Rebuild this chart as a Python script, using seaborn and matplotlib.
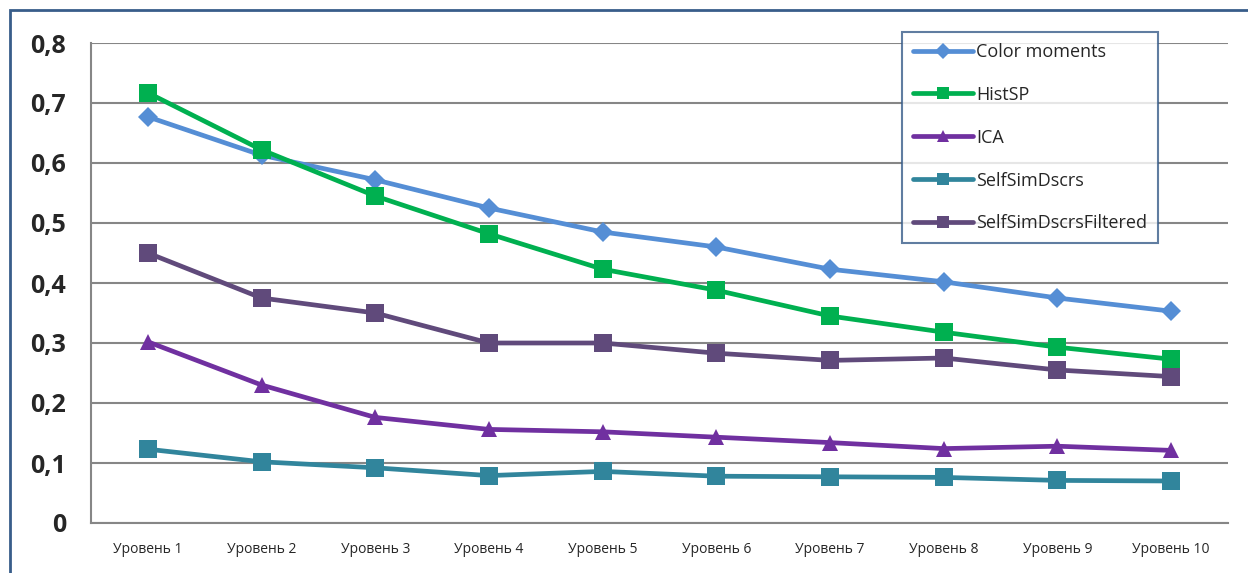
import pandas as pd
import matplotlib
matplotlib.use("Agg")
import matplotlib.pyplot as plt
import matplotlib.ticker as mticker
from matplotlib.patches import Rectangle
import seaborn as sns

levels = ["Уровень %d" % i for i in range(1, 11)]

color_moments = [0.677, 0.613, 0.572, 0.525, 0.485, 0.460, 0.423, 0.402, 0.375, 0.353]
hist_sp = [0.717, 0.622, 0.545, 0.482, 0.423, 0.388, 0.345, 0.318, 0.293, 0.273]
ica = [0.302, 0.230, 0.176, 0.156, 0.152, 0.143, 0.134, 0.124, 0.128, 0.121]
self_sim = [0.123, 0.102, 0.092, 0.079, 0.086, 0.078, 0.077, 0.076, 0.071, 0.070]
self_sim_filtered = [0.450, 0.375, 0.350, 0.300, 0.300, 0.283, 0.271, 0.275, 0.255, 0.244]

series_names = ["Color moments", "HistSP", "ICA", "SelfSimDscrs", "SelfSimDscrsFiltered"]
series_values = [color_moments, hist_sp, ica, self_sim, self_sim_filtered]
series_colors = ["#558ED5", "#00B050", "#7030A0", "#31859C", "#604A7B"]
series_markers = ["D", "s", "^", "s", "s"]
marker_sizes = [10, 13, 12, 13, 13]

df = pd.concat(
    [pd.DataFrame({"level": levels, "value": vals, "method": name})
     for name, vals in zip(series_names, series_values)],
    ignore_index=True,
)

sns.set_style("white")
plt.rcParams["font.family"] = ["Open Sans", "DejaVu Sans"]

fig = plt.figure(figsize=(12.48, 5.73), dpi=100)
ax = fig.add_axes([91 / 1248, 1 - 523 / 573, (1228 - 91) / 1248, (523 - 43) / 573])

for name, color, mk, ms in zip(series_names, series_colors, series_markers, marker_sizes):
    sns.lineplot(data=df[df["method"] == name], x="level", y="value", ax=ax,
                 color=color, marker=mk, markersize=ms, markeredgewidth=0,
                 linewidth=3.4, label=name, sort=False, zorder=3)

ax.set_ylim(0, 0.8)
ax.set_xlim(-0.5, len(levels) - 0.5)
ax.yaxis.set_major_locator(mticker.MultipleLocator(0.1))
ax.yaxis.set_major_formatter(mticker.FuncFormatter(
    lambda v, p: "0" if abs(v) < 1e-9 else ("%.1f" % v).replace(".", ",")))
ax.grid(axis="y", color="#868686", linewidth=1.5, zorder=0)
ax.grid(axis="x", visible=False)

ax.set_xticks(range(len(levels)))
ax.set_xticklabels(levels)
ax.xaxis.set_minor_locator(mticker.FixedLocator([i - 0.5 for i in range(len(levels) + 1)]))
ax.tick_params(axis="x", which="major", length=0, pad=14, labelsize=10)
ax.tick_params(axis="x", which="minor", length=6, width=1.5, color="#868686", direction="out")
ax.tick_params(axis="y", length=6, width=1.5, color="#868686", direction="out",
               labelsize=18, pad=12)
for lbl in ax.get_yticklabels():
    lbl.set_fontweight("bold")

ax.set_xlabel("")
ax.set_ylabel("")
for side in ["top", "right"]:
    ax.spines[side].set_visible(False)
for side in ["left", "bottom"]:
    ax.spines[side].set_color("#868686")
    ax.spines[side].set_linewidth(1.5)

leg = ax.legend(loc="upper right", bbox_to_anchor=(1158 / 1248, 1 - 32 / 573),
                bbox_transform=fig.transFigure, frameon=True, fancybox=False,
                fontsize=13, handlelength=3.3, handletextpad=0.2, labelspacing=1.38,
                borderpad=0.6, borderaxespad=0)
leg.get_frame().set_edgecolor("#385D8A")
leg.get_frame().set_linewidth(1.5)
leg.set_zorder(5)
for h in leg.legend_handles:
    h.set_markersize(8)
    h.set_solid_capstyle("round")

# outer chart-area border
fig.patches.append(Rectangle((10 / 1248, -0.05), 1.1, 1 - 10 / 573 + 0.05,
                             transform=fig.transFigure, fill=False,
                             edgecolor="#385D8A", linewidth=2))

fig.savefig("out.png", dpi=100)
